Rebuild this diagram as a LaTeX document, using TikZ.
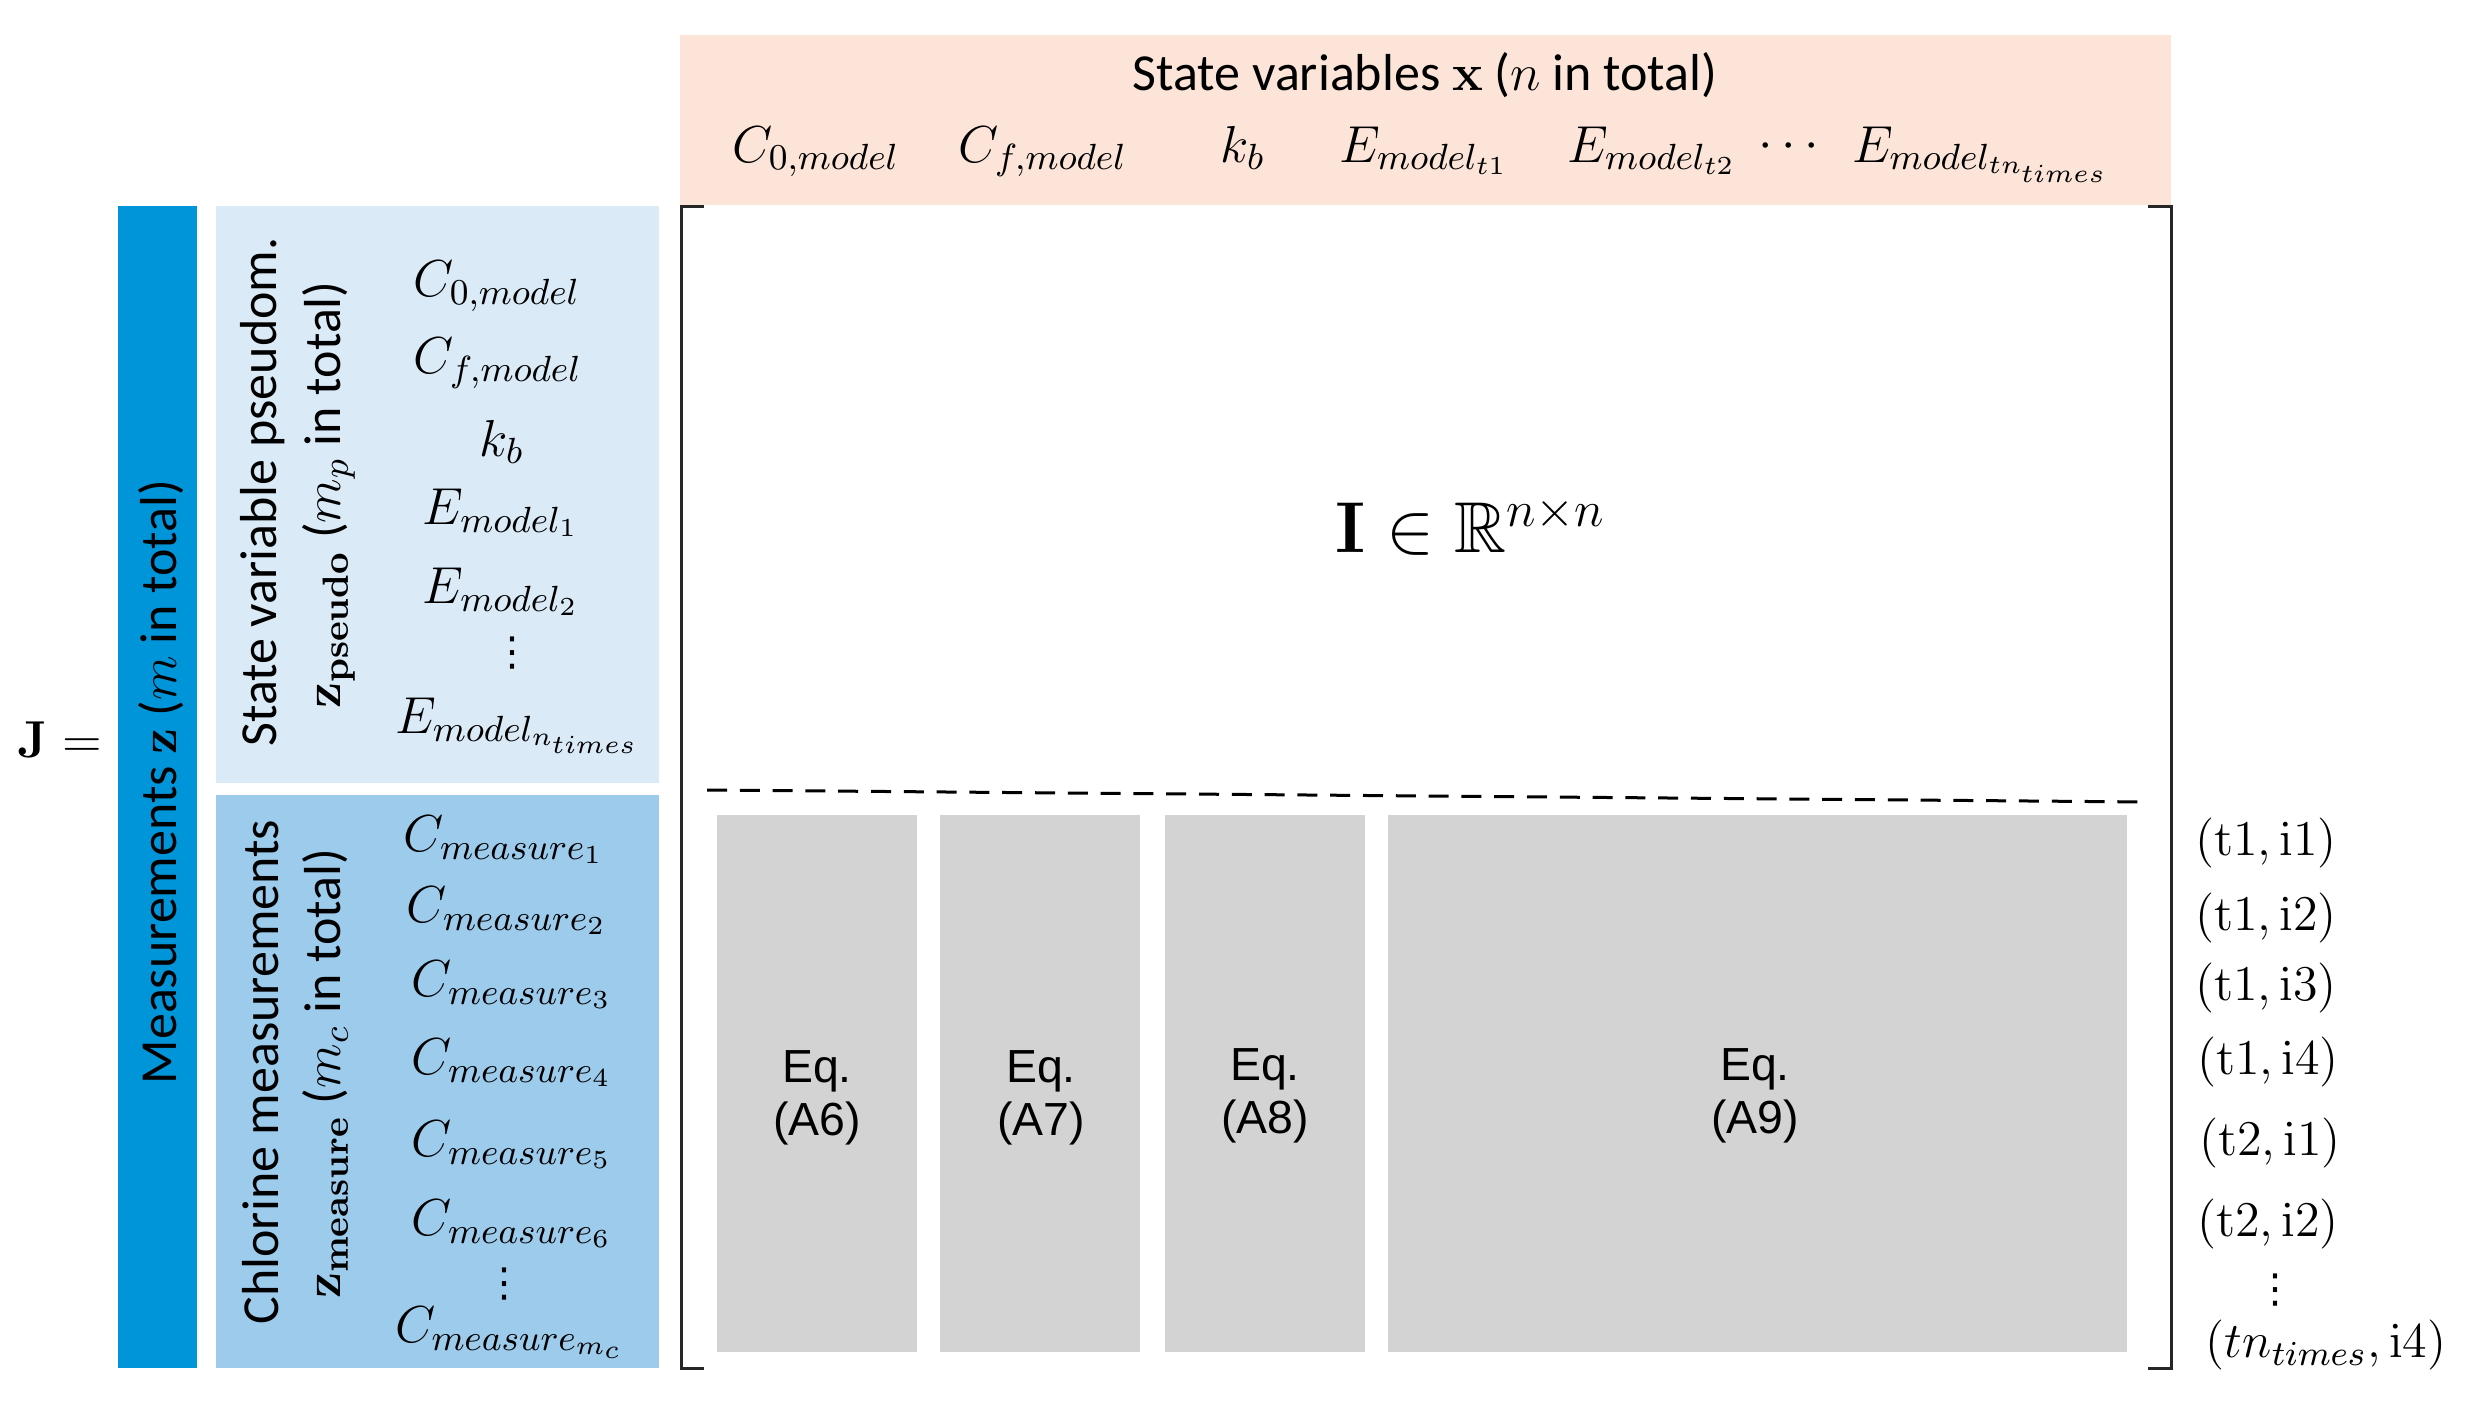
\documentclass[tikz,border=0pt]{standalone}
\usepackage{fix-cm}
\usepackage{amsmath,amssymb}
\usepackage[no-math]{fontspec}
\newfontfamily\calib{Carlito}
\newfontfamily\arialike{Liberation Sans}
\newfontfamily\djv{DejaVu Sans}
\definecolor{barblue}{RGB}{0,149,217}
\definecolor{lightblue}{RGB}{218,234,247}
\definecolor{midblue}{RGB}{157,203,236}
\definecolor{salmon}{RGB}{252,228,216}
\definecolor{eqgray}{RGB}{211,211,211}
\begin{document}
\begin{tikzpicture}[x=0.25pt,y=-0.25pt,
  sanstext/.style={font=\calib\fontsize{13}{15}\selectfont, inner sep=0pt},
  eqtext/.style={font=\arialike\fontsize{11.6}{13.3}\selectfont, inner sep=0pt, anchor=base},
  mlabel/.style={font=\fontsize{13}{15}\selectfont, inner sep=0pt},
  dotlabel/.style={font=\djv\fontsize{10}{10}\selectfont, inner sep=0pt},
  rlabel/.style={font=\fontsize{12.5}{15}\selectfont, inner sep=0pt},
  brk/.style={line width=0.75pt, black!85},
  eqbox/.style={fill=eqgray}]
\useasboundingbox (0,0) rectangle (2470,1403);

% panels
\fill[barblue] (118,206) rectangle (197,1368);
\fill[lightblue] (216,206) rectangle (659,783);
\fill[midblue] (216,795) rectangle (659,1368);
\fill[salmon] (680,35) rectangle (2171,205);

% gray equation blocks
\fill[eqbox] (717,815) rectangle (917,1352);
\fill[eqbox] (940,815) rectangle (1140,1352);
\fill[eqbox] (1165,815) rectangle (1365,1352);
\fill[eqbox] (1388,815) rectangle (2127,1352);

% matrix brackets
\draw[brk] (704,206) -- (681,206) -- (681,1368) -- (704,1368);
\draw[brk] (2148,206) -- (2171,206) -- (2171,1368) -- (2148,1368);

% dashed separator
\draw[line width=0.75pt, dash pattern=on 5pt off 3.2pt] (707,790) -- (2150,802);

% J =
\node[font=\fontsize{13}{15}\selectfont, inner sep=0pt] (J) at (60,740) {$\mathbf{J} =$};

% rotated labels
\node[sanstext, rotate=90, anchor=base] (meas) at (176,782) {Measurements $\mathbf{z}$ ($m$ in total)};
\node[sanstext, rotate=90, anchor=base] (ps1) at (276,492) {State variable pseudom.};
\node[sanstext, rotate=90, anchor=base] (ps2) at (340,495) {$\mathbf{z}_{\mathbf{pseudo}}$ ($m_p$ in total)};
\node[sanstext, rotate=90, anchor=base] (cl1) at (278,1072) {Chlorine measurements};
\node[sanstext, rotate=90, anchor=base] (cl2) at (340,1074) {$\mathbf{z}_{\mathbf{measure}}$ ($m_c$ in total)};

% pseudo-measurement labels
\node[mlabel] (p1) at (497,286) {$C_{0,model}$};
\node[mlabel] (p2) at (498,363) {$C_{f,model}$};
\node[mlabel] (p3) at (502,442) {$k_b$};
\node[mlabel] (p4) at (501,513) {$E_{model_1}$};
\node[mlabel] (p5) at (501,592) {$E_{model_2}$};
\node[dotlabel] (p6) at (512,653) {⋮};
\node[mlabel] (p7) at (518,726) {$E_{model_{n_{times}}}$};

% chlorine measurement labels
\node[mlabel] (c1) at (504,840) {$C_{measure_1}$};
\node[mlabel] (c2) at (507,911) {$C_{measure_2}$};
\node[mlabel] (c3) at (512,985) {$C_{measure_3}$};
\node[mlabel] (c4) at (512,1063) {$C_{measure_4}$};
\node[mlabel] (c5) at (512,1145) {$C_{measure_5}$};
\node[mlabel] (c6) at (512,1224) {$C_{measure_6}$};
\node[dotlabel] (c7) at (504,1284) {⋮};
\node[mlabel] (c8) at (510,1333) {$C_{measure_{m_c}}$};

% header
\node[sanstext, anchor=base] (title) at (1425,90) {State variables $\mathbf{x}$ ($n$ in total)};
\node[mlabel, anchor=base] (h1) at (816,162) {$C_{0,model}$};
\node[mlabel, anchor=base] (h2) at (1043,162) {$C_{f,model}$};
\node[mlabel, anchor=base] (h3) at (1243,162) {$k_b$};
\node[mlabel, anchor=base] (h4) at (1424,162) {$E_{model_{t1}}$};
\node[mlabel, anchor=base] (h5) at (1652,162) {$E_{model_{t2}}$};
\node[mlabel, anchor=base] (h6) at (1793,158) {$\cdots$};
\node[mlabel, anchor=base] (h7) at (1981,162) {$E_{model_{tn_{times}}}$};

% identity block
\node[font=\fontsize{18}{20}\selectfont, inner sep=0pt] (I) at (1471,526) {$\mathbf{I} \in \mathbb{R}^{n\times n}$};

% equation labels
\node[eqtext] (e6a) at (817,1082) {Eq.};
\node[eqtext] (e6b) at (817,1135) {(A6)};
\node[eqtext] (e7a) at (1041,1082) {Eq.};
\node[eqtext] (e7b) at (1041,1135) {(A7)};
\node[eqtext] (e8a) at (1265,1080) {Eq.};
\node[eqtext] (e8b) at (1265,1133) {(A8)};
\node[eqtext] (e9a) at (1755,1080) {Eq.};
\node[eqtext] (e9b) at (1755,1133) {(A9)};

% row labels
\node[rlabel] (r1) at (2266,843) {$(\mathrm{t1}, \mathrm{i1})$};
\node[rlabel] (r2) at (2266,918) {$(\mathrm{t1}, \mathrm{i2})$};
\node[rlabel] (r3) at (2266,988) {$(\mathrm{t1}, \mathrm{i3})$};
\node[rlabel] (r4) at (2268,1062) {$(\mathrm{t1}, \mathrm{i4})$};
\node[rlabel] (r5) at (2270,1143) {$(\mathrm{t2}, \mathrm{i1})$};
\node[rlabel] (r6) at (2268,1224) {$(\mathrm{t2}, \mathrm{i2})$};
\node[dotlabel] (r7) at (2275,1290) {⋮};
\node[rlabel] (r8) at (2326,1345) {$(tn_{times}, \mathrm{i4})$};
\end{tikzpicture}
\end{document}
